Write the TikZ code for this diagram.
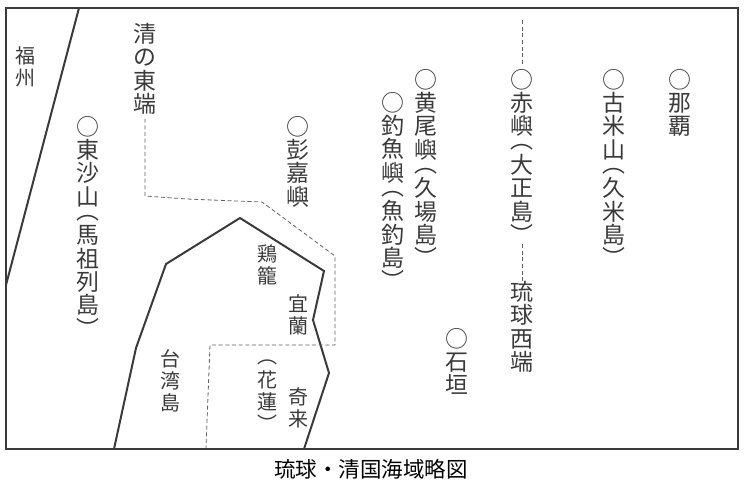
\documentclass[tikz,border=0pt]{standalone}
\usepackage{fontspec}
\setmainfont{Noto Sans CJK JP}
\definecolor{ink}{HTML}{3A3A3A}
\tikzset{
coast/.style={draw=ink,line width=1.5pt,line join=miter},
border/.style={coast,line width=1.6pt},
limit/.style={draw=ink!80,densely dashed,line width=0.6pt},
biglabel/.style={anchor=north,inner sep=0pt,align=center,text=ink,font=\fontsize{17.2}{17.5}\selectfont},
smalllabel/.style={anchor=north,inner sep=0pt,align=center,text=ink,font=\fontsize{15}{16.5}\selectfont},
caption/.style={inner sep=0pt,text=black,font=\fontsize{16.1}{18}\selectfont}
}
\begin{document}
\begin{tikzpicture}[x=0.75pt,y=-0.75pt]
\useasboundingbox (0,0) rectangle (747,490);

% frame and coasts
\draw[border] (6,8) rectangle (738,449);
\draw[coast] (79,8) -- (6,285);
\draw[coast] (114,449) -- (136,348) -- (166,264) -- (240,218) -- (324,271)
-- (313,320) -- (329,373) -- (304,449);

% labels
\node[smalllabel] (fuzhou) at (26,46) {福\\州};
\node[biglabel] (qing) at (145,23) {清\\の\\東\\端};
\node[biglabel] (dongsha) at (88,116) {○\\東\\沙\\山\\[-7pt]︵\\[1pt]馬\\祖\\列\\島\\[0pt]︶};
\node[biglabel] (pengjia) at (298,116) {○\\彭\\嘉\\嶼};
\node[biglabel] (diaoyu) at (393,92) {○\\釣\\魚\\嶼\\[-7pt]︵\\[1pt]魚\\釣\\島\\[0pt]︶};
\node[biglabel] (huangwei) at (426,69) {○\\黄\\尾\\嶼\\[-7pt]︵\\[1pt]久\\場\\島\\[0pt]︶};
\node[biglabel] (chi) at (522,69) {○\\赤\\嶼\\[-7pt]︵\\[1pt]大\\正\\島\\[0pt]︶};
\node[biglabel] (kume) at (614,69) {○\\古\\米\\山\\[-7pt]︵\\[1pt]久\\米\\島\\[0pt]︶};
\node[biglabel] (naha) at (680,69) {○\\那\\覇};
\node[biglabel] (ishigaki) at (457,328) {○\\石\\垣};
\node[biglabel] (ryukyu) at (522,281) {琉\\球\\西\\端};
\node[smalllabel] (taiwan) at (170,349) {台\\湾\\島};
\node[smalllabel] (jilong) at (267,244) {鶏\\籠};
\node[smalllabel] (yilan) at (298,294) {宜\\蘭};
\node[smalllabel] (hualien) at (267,360) {︵\\[1pt]花\\蓮\\[0pt]︶};
\node[smalllabel] (qilai) at (298,387) {奇\\来};
\node[caption] (title) at (371,469) {琉球・清国海域略図};

% limits of the two sides
\coordinate (qingend) at (206,448);
\coordinate (chitop) at (522,20);
\draw[limit,shorten <=3pt] (qing.south) -- (145,196) -- (187,199) -- (262,202) -- (335,256)
-- (335,345) -- (210,345) -- (qingend);
\draw[limit,shorten >=4pt] (chitop) -- (chi.north);
\draw[limit] (chi.south) -- (ryukyu.north);
\end{tikzpicture}
\end{document}
